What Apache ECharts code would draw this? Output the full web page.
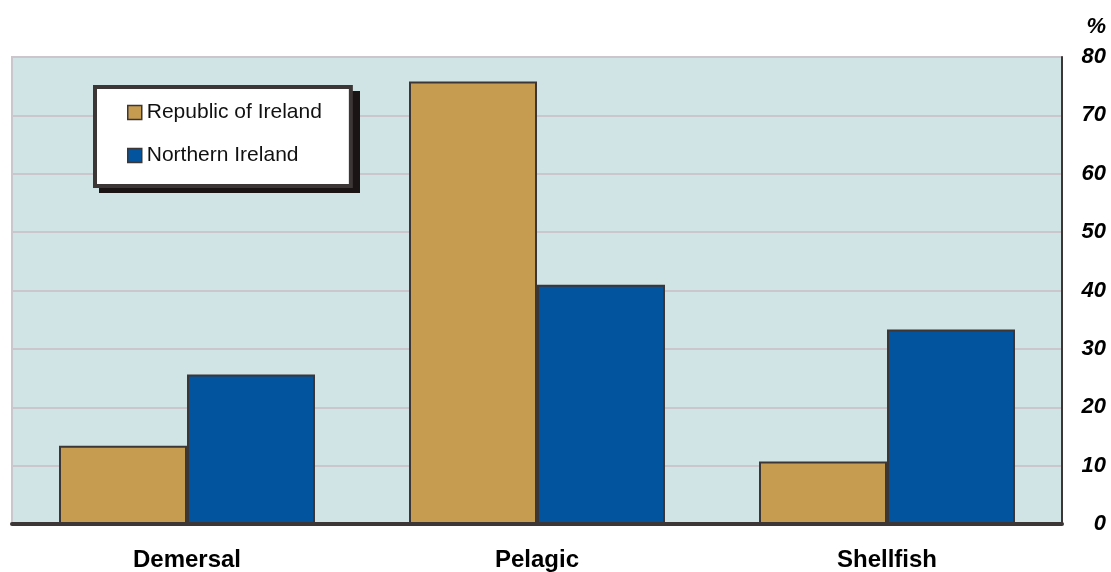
<!DOCTYPE html>
<html>
<head>
<meta charset="utf-8">
<script src="https://cdn.jsdelivr.net/npm/echarts@6/dist/echarts.min.js"></script>
<style>
  html, body { margin: 0; padding: 0; background: #ffffff; }
  #chart { width: 1111px; height: 572px; }
</style>
</head>
<body>
<div id="chart"></div>
<script>
// Fish catch composition by type, per cent
const categories = ['Demersal', 'Pelagic', 'Shellfish'];
const republicOfIreland = [13.4, 75.8, 10.7];
const northernIreland = [25.6, 41.0, 33.3];
const yTicks = [0, 10, 20, 30, 40, 50, 60, 70, 80];

const FONT = '"Liberation Sans", Arial, sans-serif';
const OUTLINE = '#3d3636';

const chart = echarts.init(document.getElementById('chart'));
chart.setOption({
  animation: false,
  textStyle: { fontFamily: FONT },
  title: {
    text: '%',
    right: 5,
    top: 16,
    padding: 0,
    textStyle: { fontFamily: FONT, fontSize: 22, fontWeight: 'bold', fontStyle: 'italic', color: '#000' }
  },
  grid: {
    left: 12, right: 49, top: 57, bottom: 48,
    show: true,
    backgroundColor: '#d0e3e5',
    borderColor: '#c9c6cc',
    borderWidth: 2
  },
  // drop shadow sitting behind the legend box
  graphic: [{
    type: 'rect',
    z: 3,
    shape: { x: 99, y: 91, width: 261, height: 102 },
    style: { fill: '#1a1414' },
    silent: true
  }],
  legend: {
    orient: 'vertical',
    left: 95,
    top: 87,
    z: 5,
    padding: [15, 29, 20, 32],
    itemGap: 22,
    itemWidth: 14,
    itemHeight: 14,
    icon: 'rect',
    backgroundColor: '#ffffff',
    borderColor: OUTLINE,
    borderWidth: 4,
    borderRadius: 0,
    textStyle: { fontFamily: FONT, fontSize: 21, color: '#111' },
    itemStyle: { borderColor: OUTLINE, borderWidth: 1.5 }
  },
  xAxis: {
    type: 'category',
    data: categories,
    axisTick: { show: false },
    axisLine: { show: true, lineStyle: { color: OUTLINE, width: 4 } },
    axisLabel: { margin: 24, fontFamily: FONT, fontSize: 24, fontWeight: 'bold', color: '#000' }
  },
  yAxis: {
    type: 'value',
    position: 'right',
    min: 0, max: 80, interval: 10,
    axisTick: { show: false },
    axisLine: { show: true, lineStyle: { color: OUTLINE, width: 2 } },
    splitLine: { show: true, lineStyle: { color: '#cbc5cc', width: 2 } },
    axisLabel: {
      margin: 44,
      align: 'right',
      padding: [4, 0, 0, 0],
      fontFamily: FONT, fontSize: 22, fontWeight: 'bold', fontStyle: 'italic', color: '#000',
      formatter: v => (yTicks.includes(v) ? String(v) : '')
    }
  },
  series: [
    {
      name: 'Republic of Ireland',
      type: 'bar',
      data: republicOfIreland,
      barWidth: 128,
      barGap: '0%',
      itemStyle: { color: '#c69c50', borderColor: OUTLINE, borderWidth: 2 }
    },
    {
      name: 'Northern Ireland',
      type: 'bar',
      data: northernIreland,
      barWidth: 128,
      barGap: '0%',
      itemStyle: { color: '#01549d', borderColor: OUTLINE, borderWidth: 2 }
    }
  ]
});
</script>
</body>
</html>
